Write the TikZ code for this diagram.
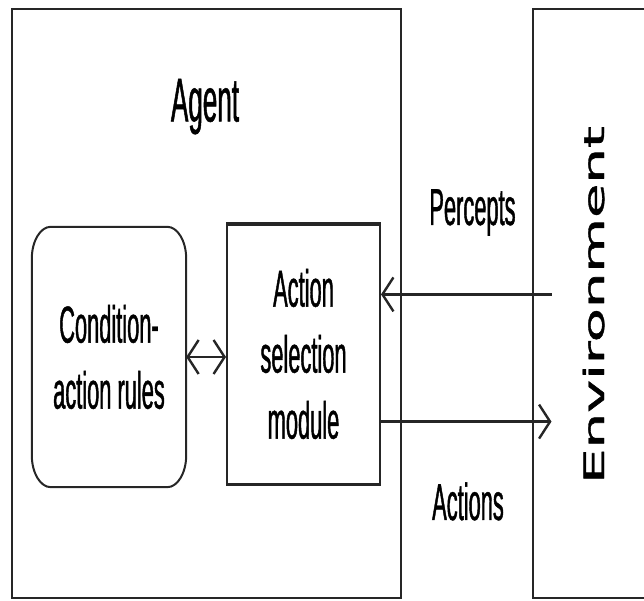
\documentclass[tikz,border=0pt]{standalone}
\usepackage{fontspec}
\usepackage{graphicx}
\usetikzlibrary{arrows.meta}
\newfontfamily\condfont[FakeStretch=0.42,FakeBold=0.8]{Liberation Sans}
\newfontfamily\envfont[FakeBold=1.2]{DejaVu Sans}
\begin{document}
\begin{tikzpicture}[x=1pt,y=1pt,
  frame/.style={draw=black!85, line width=2pt},
  lbl/.style={font=\condfont\fontsize{52}{66}\selectfont, align=center, text=black},
  conn/.style={draw=black!85, line width=2.4pt},
  >={Straight Barb[length=11pt,width=34pt]}]
\useasboundingbox (0,0) rectangle (644,601);
% Agent frame
\node[frame, minimum width=389pt, minimum height=589pt, inner sep=0pt] (agent) at (206.5,297.5) {};
\node[font=\condfont\fontsize{62}{66}\selectfont, anchor=base] (agentlbl) at (205,479.5) {Agent};
% Environment frame (open on the right)
\draw[frame] (644,592) -- (533,592) -- (533,3) -- (644,3);
\node[rotate=90, anchor=base, inner sep=0pt] (env) at (604,296) {\scalebox{1}[0.5]{\envfont\fontsize{56}{60}\selectfont Environment}};
% Condition-action rules (rounded box)
\node[lbl, minimum width=154pt, minimum height=260pt, inner sep=0pt] (rules) at (109,244) {Condition-\\action rules};
\draw[frame] ([xshift=19pt]rules.north west) -- ([xshift=-19pt]rules.north east)
  arc[start angle=90, end angle=0, x radius=19pt, y radius=32pt]
  -- ([yshift=32pt]rules.south east)
  arc[start angle=0, end angle=-90, x radius=19pt, y radius=32pt]
  -- ([xshift=19pt]rules.south west)
  arc[start angle=270, end angle=180, x radius=19pt, y radius=32pt]
  -- ([yshift=-32pt]rules.north west)
  arc[start angle=180, end angle=90, x radius=19pt, y radius=32pt] -- cycle;
% Action selection module
\node[frame, lbl, minimum width=153pt, minimum height=260pt, inner sep=0pt] (action) at (303.5,247) {Action\\selection\\module};
\draw[draw=black!85, line width=4.5pt] ([yshift=-1pt]action.north west) -- ([yshift=-1pt]action.north east);
\draw[draw=black!85, line width=3pt] (action.south west) -- (action.south east);
% connectors
\draw[conn,<->] (rules.east) -- (rules.east -| action.west);
\coordinate (pin) at (551.5,306.6);
\coordinate (aout) at (551.5,179.4);
\draw[conn,->] (pin) -- (pin -| action.east);
\draw[conn,->] (aout -| action.east) -- (aout);
% labels
\node[lbl, anchor=base] (percepts) at (472.5,376) {Percepts};
\node[lbl, anchor=base] (actions) at (468,81) {Actions};
\end{tikzpicture}
\end{document}
